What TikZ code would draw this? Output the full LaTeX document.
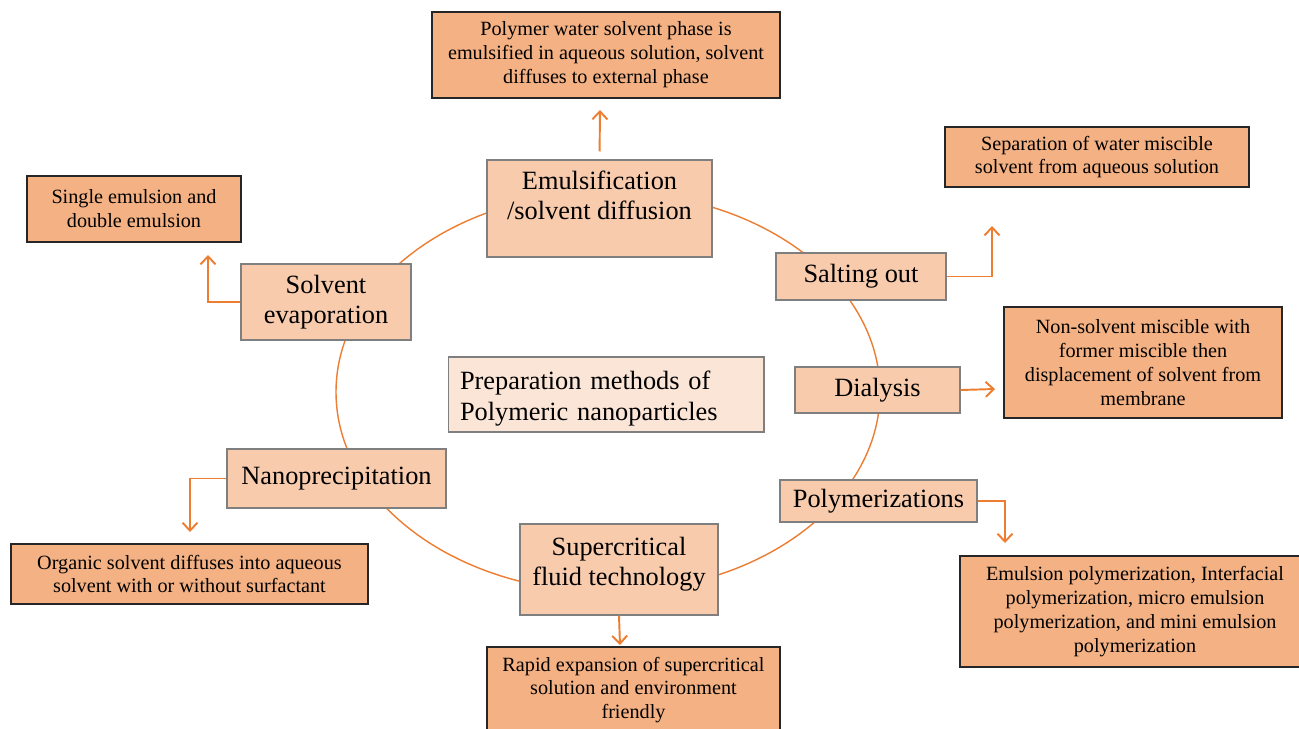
\documentclass[tikz,border=0pt]{standalone}
\usepackage{fontspec}
\setmainfont{Liberation Serif}
\newfontfamily\tms{Liberation Serif}
\usetikzlibrary{arrows.meta}
\definecolor{detfill}{HTML}{F4B183}
\definecolor{metfill}{HTML}{F8CBAD}
\definecolor{cenfill}{HTML}{FBE5D6}
\definecolor{orng}{HTML}{ED7D31}
\definecolor{gborder}{HTML}{7F7F7F}
\newcommand\liftlines[2]{\raisebox{#1}[\height][\depth]{\begin{tabular}{@{}c@{}}#2\end{tabular}}}
\newcommand\liftleft[2]{\raisebox{#1}[\height][\depth]{\begin{tabular}{@{}l@{}}#2\end{tabular}}}
\tikzset{
  method/.style={draw=gborder, line width=0.6pt, fill=metfill, inner sep=0pt,
    align=center, font=\tms\fontsize{15}{17}\selectfont},
  detail/.style={draw=black!85, line width=1.1pt, fill=detfill, inner sep=0pt,
    align=center, font=\tms\fontsize{11.5}{13.6}\selectfont},
  centre/.style={draw=gborder, line width=0.6pt, fill=cenfill, inner xsep=0.24cm, inner ysep=0pt,
    align=left, font=\tms\fontsize{15}{17.6}\selectfont},
  arr/.style={draw=orng, line width=1.1pt, -{Straight Barb[length=4.5pt,width=8.5pt]}},
  ring/.style={draw=orng, line width=0.8pt}
}
\begin{document}
\begin{tikzpicture}[x=0.02cm,y=-0.02cm]
\useasboundingbox (0,0) rectangle (1299,728);
\coordinate (mid) at (608,392);
\draw[ring] (mid) ellipse [x radius=272*0.02cm, y radius=200*0.02cm];

% method boxes
\node[method, minimum width=4.5cm, minimum height=1.94cm] (emul) at (599.5,208.5) {\liftlines{0.2cm}{Emulsification\\/solvent diffusion}};
\node[method, minimum width=3.4cm, minimum height=0.94cm] (salt) at (861,276.5) {Salting out};
\node[method, minimum width=3.3cm, minimum height=0.92cm] (dial) at (877.5,390) {Dialysis};
\node[method, minimum width=3.94cm, minimum height=0.84cm] (poly) at (878.5,501) {Polymerizations};
\node[method, minimum width=3.96cm, minimum height=1.82cm] (sup) at (619,569.5) {\liftlines{0.1cm}{Supercritical\\fluid technology}};
\node[method, minimum width=4.38cm, minimum height=1.18cm] (nano) at (336.5,478.5) {Nanoprecipitation};
\node[method, minimum width=3.4cm, minimum height=1.52cm] (solv) at (326,302) {Solvent\\evaporation};
\node[centre, text width=5.84cm, minimum height=1.5cm] (cen) at (606,394.5) {\liftleft{-0.08cm}{Preparation methods of\\Polymeric nanoparticles}};

% detail boxes
\node[detail, minimum width=6.96cm, minimum height=1.72cm] (d1) at (606,55) {Polymer water solvent phase is\\emulsified in aqueous solution, solvent\\diffuses to external phase};
\node[detail, minimum width=6.08cm, minimum height=1.2cm] (d2) at (1097,157) {Separation of water miscible\\solvent from aqueous solution};
\node[detail, minimum width=5.56cm, minimum height=2.22cm] (d3) at (1143,362.5) {Non-solvent miscible with\\former miscible then\\displacement of solvent from\\membrane};
\node[detail, minimum width=7.0cm, minimum height=2.22cm] (d4) at (1135,611.5) {Emulsion polymerization, Interfacial\\polymerization, micro emulsion\\polymerization, and mini emulsion\\polymerization};
\node[detail, minimum width=5.86cm, minimum height=1.72cm] (d5) at (633.5,690) {Rapid expansion of supercritical\\solution and environment\\friendly};
\node[detail, minimum width=7.14cm, minimum height=1.2cm] (d6) at (189.5,574) {Organic solvent diffuses into aqueous\\solvent with or without surfactant};
\node[detail, minimum width=4.28cm, minimum height=1.32cm] (d7) at (134,209) {Single emulsion and\\double emulsion};

% arrow end points
\coordinate (t1) at (600,110);
\coordinate (t2) at (992,226);
\coordinate (t3) at (995,389);
\coordinate (t4) at (1005,543);
\coordinate (t5) at (620,645);
\coordinate (t6) at (190,532);
\coordinate (t7) at (208,255);

\draw[arr, shorten <=0.16cm] (emul.north) -- (t1);
\draw[arr] (salt.east) -| (t2);
\draw[arr] (dial.east) -- (t3);
\draw[arr] (poly.east) -| (t4);
\draw[arr] (sup.south) -- (t5);
\draw[arr] (nano.west) -| (t6);
\draw[arr] (solv.west) -| (t7);
\end{tikzpicture}
\end{document}
